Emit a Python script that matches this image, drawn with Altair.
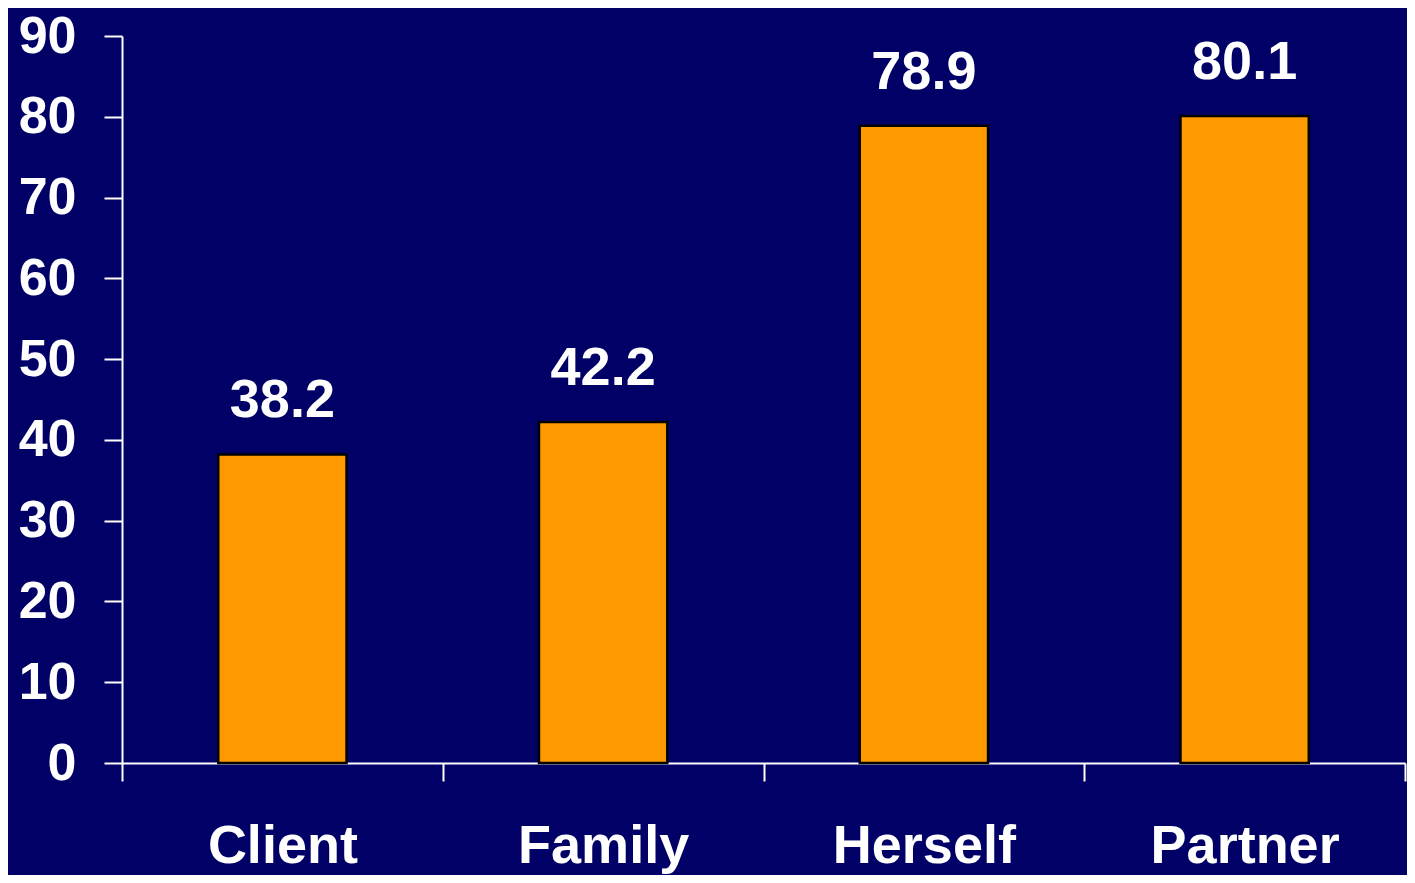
import altair as alt
import pandas as pd

categories = ["Client", "Family", "Herself", "Partner"]
values = [38.2, 42.2, 78.9, 80.1]
y_ticks = [0, 10, 20, 30, 40, 50, 60, 70, 80, 90]

df = pd.DataFrame({"cat": categories, "val": values})
df["label"] = [f"{v:.1f}" for v in values]

FONT = "Liberation Sans"
BG = "#000066"

x_enc = alt.X(
    "cat:N",
    sort=categories,
    title=None,
    scale=alt.Scale(paddingInner=0, paddingOuter=0),
    axis=alt.Axis(
        labelAngle=0,
        labelFont=FONT,
        labelFontSize=54,
        labelFontWeight="bold",
        labelColor="white",
        labelPadding=38,
        labelLimit=0,
        domainColor="white",
        domainWidth=2,
        tickColor="white",
        tickWidth=2,
        tickSize=18,
        tickBand="extent",
    ),
)

y_enc = alt.Y(
    "val:Q",
    title=None,
    scale=alt.Scale(domain=[0, 90], nice=False),
    axis=alt.Axis(
        values=y_ticks,
        grid=False,
        labelFont=FONT,
        labelFontSize=52,
        labelFontWeight="bold",
        labelColor="white",
        labelPadding=28,
        domainColor="white",
        domainWidth=2,
        tickColor="white",
        tickWidth=2,
        tickSize=18,
    ),
)

bars = alt.Chart(df).mark_bar(
    color="#FF9900", stroke="black", strokeWidth=2.5,
    width=alt.RelativeBandSize(0.4)
).encode(x=x_enc, y=y_enc)

text = alt.Chart(df).mark_text(
    font=FONT, fontSize=54, fontWeight="bold", color="white",
    baseline="alphabetic", dy=-37
).encode(x=alt.X("cat:N", sort=categories), y="val:Q", text="label:N")

chart = (
    alt.layer(bars, text)
    .properties(
        width=1283,
        height=727,
        background=BG,
        autosize=alt.AutoSizeParams(type="none"),
        padding={"left": 114, "top": 28, "right": 2, "bottom": 112},
    )
    .configure_view(stroke=None)
)

chart.save("out.html", embed_options={"renderer": "svg", "actions": False})
